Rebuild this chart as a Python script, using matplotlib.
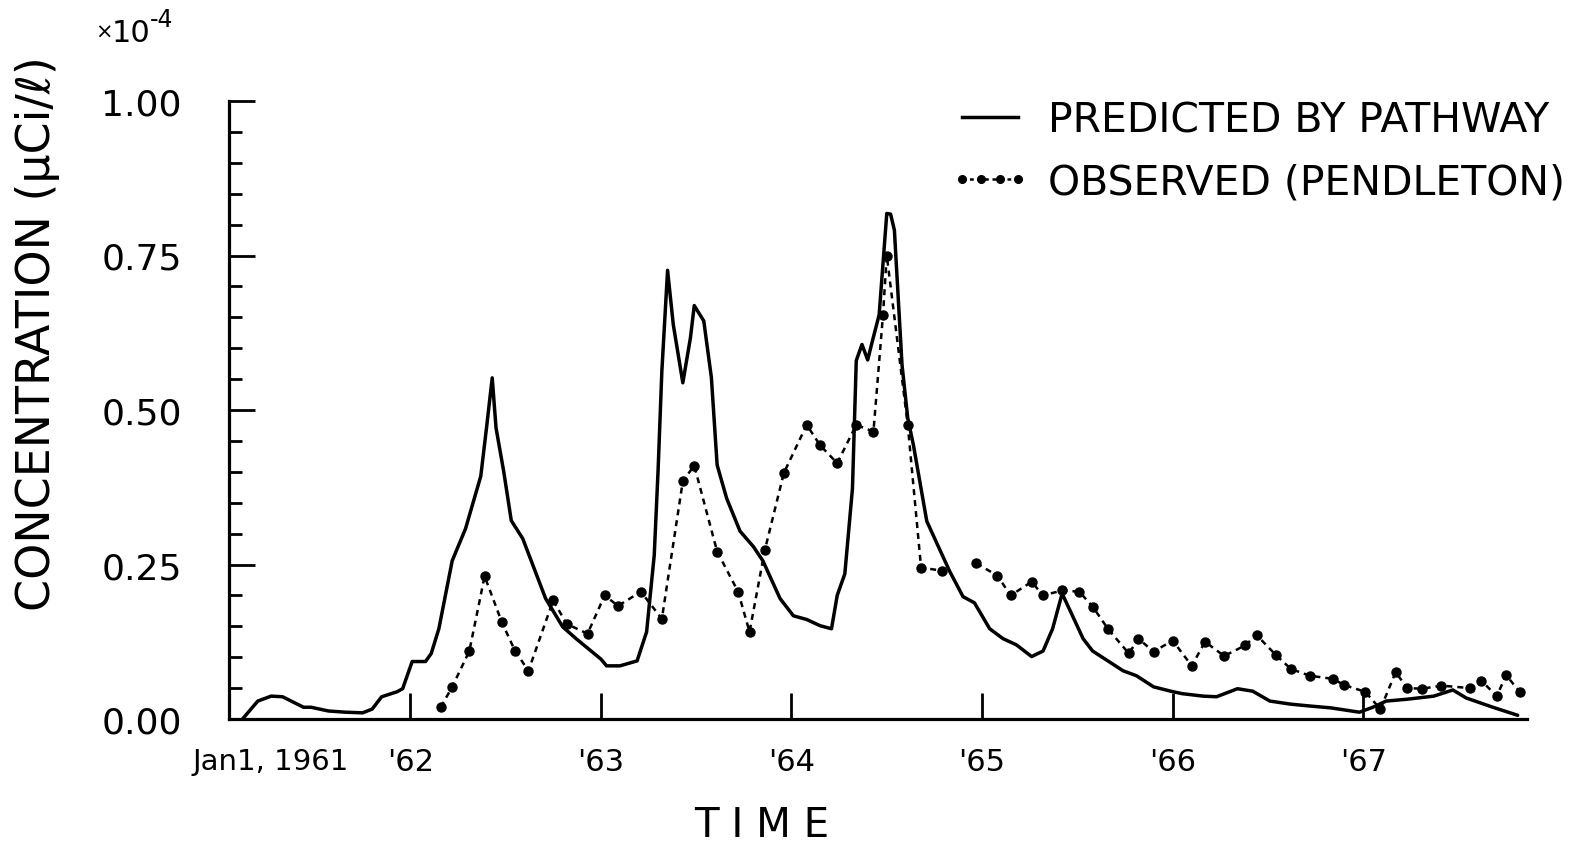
import matplotlib
matplotlib.use("Agg")
import matplotlib.pyplot as plt
from matplotlib.lines import Line2D
from matplotlib.ticker import MultipleLocator

# Predicted concentration (units of 1e-4 uCi/l) versus time in years
pred_year = [1961.12, 1961.20, 1961.27, 1961.33, 1961.44, 1961.48, 1961.57, 1961.66,
             1961.75, 1961.80, 1961.85, 1961.93, 1961.96, 1962.01, 1962.08, 1962.11,
             1962.15, 1962.22, 1962.29, 1962.37, 1962.40, 1962.43, 1962.45, 1962.49,
             1962.53, 1962.59, 1962.71, 1962.80, 1962.87, 1963.00, 1963.03, 1963.10,
             1963.19, 1963.24, 1963.28, 1963.30, 1963.32, 1963.35, 1963.38, 1963.43,
             1963.47, 1963.49, 1963.54, 1963.58, 1963.61, 1963.66, 1963.73, 1963.80,
             1963.85, 1963.94, 1964.01, 1964.08, 1964.15, 1964.21, 1964.24, 1964.28,
             1964.32, 1964.34, 1964.37, 1964.40, 1964.42, 1964.46, 1964.50, 1964.52,
             1964.54, 1964.56, 1964.58, 1964.61, 1964.64, 1964.71, 1964.83, 1964.90,
             1964.96, 1965.04, 1965.11, 1965.18, 1965.26, 1965.32, 1965.37, 1965.42,
             1965.47, 1965.53, 1965.58, 1965.66, 1965.74, 1965.81, 1965.90, 1965.99,
             1966.05, 1966.16, 1966.23, 1966.34, 1966.42, 1966.51, 1966.62, 1966.72,
             1966.83, 1966.98, 1967.05, 1967.12, 1967.23, 1967.37, 1967.47, 1967.54,
             1967.68, 1967.81]
pred_conc = [0.000, 0.029, 0.037, 0.036, 0.019, 0.019, 0.013, 0.011,
             0.010, 0.016, 0.036, 0.044, 0.049, 0.093, 0.093, 0.106,
             0.146, 0.256, 0.308, 0.393, 0.471, 0.552, 0.471, 0.401,
             0.321, 0.292, 0.195, 0.149, 0.130, 0.097, 0.086, 0.086,
             0.094, 0.141, 0.265, 0.401, 0.563, 0.726, 0.638, 0.544,
             0.617, 0.669, 0.644, 0.552, 0.411, 0.357, 0.304, 0.279,
             0.256, 0.195, 0.167, 0.161, 0.151, 0.146, 0.200, 0.235,
             0.373, 0.580, 0.606, 0.581, 0.606, 0.654, 0.818, 0.817,
             0.791, 0.682, 0.573, 0.487, 0.443, 0.320, 0.239, 0.198,
             0.188, 0.146, 0.130, 0.120, 0.101, 0.110, 0.146, 0.203,
             0.170, 0.130, 0.110, 0.094, 0.078, 0.070, 0.052, 0.045,
             0.041, 0.037, 0.036, 0.049, 0.045, 0.029, 0.024, 0.021,
             0.018, 0.011, 0.019, 0.029, 0.032, 0.037, 0.047, 0.034,
             0.019, 0.006]

# Observed concentration at Pendleton
obs_year = [1962.16, 1962.22, 1962.31, 1962.39, 1962.48, 1962.55, 1962.62, 1962.75,
            1962.82, 1962.93, 1963.02, 1963.09, 1963.21, 1963.32, 1963.43, 1963.49,
            1963.61, 1963.72, 1963.78, 1963.86, 1963.96, 1964.08, 1964.15, 1964.24,
            1964.34, 1964.43, 1964.48, 1964.50, 1964.61, 1964.68, 1964.79,
            1964.97, 1965.08, 1965.15, 1965.26, 1965.32, 1965.42, 1965.51, 1965.58,
            1965.66, 1965.77, 1965.82, 1965.90, 1966.00, 1966.10, 1966.17, 1966.27,
            1966.38, 1966.44, 1966.54, 1966.62, 1966.72, 1966.84, 1966.90, 1967.01,
            1967.09, 1967.17, 1967.23, 1967.31, 1967.41, 1967.56, 1967.62, 1967.70,
            1967.75, 1967.82]
obs_conc = [0.019, 0.052, 0.110, 0.231, 0.157, 0.110, 0.078, 0.192,
            0.154, 0.138, 0.200, 0.183, 0.206, 0.162, 0.385, 0.410,
            0.271, 0.206, 0.141, 0.273, 0.398, 0.476, 0.443, 0.414,
            0.476, 0.465, 0.653, 0.750, 0.476, 0.245, 0.240,
            0.252, 0.232, 0.200, 0.222, 0.200, 0.208, 0.206, 0.182,
            0.146, 0.106, 0.130, 0.109, 0.127, 0.086, 0.125, 0.102,
            0.119, 0.136, 0.104, 0.081, 0.070, 0.065, 0.055, 0.044,
            0.016, 0.076, 0.050, 0.049, 0.054, 0.050, 0.062, 0.037,
            0.071, 0.044]
# the observed record has an interruption at the end of 1964
obs_gap_after = 1964.79

year_ticks = [1962, 1963, 1964, 1965, 1966, 1967]
year_labels = ["'62", "'63", "'64", "'65", "'66", "'67"]
start_label = "Jan1, 1961"
start_label_pos = 1961.27
conc_ticks = [0.0, 0.25, 0.50, 0.75, 1.00]
conc_labels = ["0.00", "0.25", "0.50", "0.75", "1.00"]

plt.rcParams["font.family"] = ["DejaVu Sans"]

W, H = 1575, 845
fig = plt.figure(figsize=(W / 100, H / 100), dpi=100)
ax = fig.add_axes([229 / W, 1 - 720 / H, 1298 / W, 618 / H])

ax.set_xlim(1961.049, 1967.859)
ax.set_ylim(0, 1.0)

# predicted curve
ax.plot(pred_year, pred_conc, color="black", lw=2.5, solid_joinstyle="round",
        solid_capstyle="round", zorder=3)

# observed points joined by a broken line, with a gap in the record
split = obs_year.index(obs_gap_after) + 1
obs_style = dict(color="black", lw=1.8, linestyle=(0, (2.4, 2.0)), zorder=4)
ax.plot(obs_year[:split], obs_conc[:split], **obs_style)
ax.plot(obs_year[split:], obs_conc[split:], **obs_style)
ax.plot(obs_year, obs_conc, linestyle="none", marker="o", ms=6.5,
        color="black", zorder=5)

# axes styling
for side in ("top", "right"):
    ax.spines[side].set_visible(False)
for side in ("left", "bottom"):
    ax.spines[side].set_linewidth(2.3)
    ax.spines[side].set_capstyle("projecting")

ax.set_yticks(conc_ticks)
ax.set_yticklabels(conc_labels)
ax.yaxis.set_minor_locator(MultipleLocator(0.05))
ax.tick_params(axis="y", which="major", direction="in", length=19, width=2.0,
               pad=34, labelsize=26)
ax.tick_params(axis="y", which="minor", direction="in", length=9, width=2.0)

ax.set_xticks(year_ticks)
ax.set_xticklabels(year_labels)
ax.tick_params(axis="x", which="major", direction="in", length=19, width=2.0,
               pad=20, labelsize=22)
ax.tick_params(axis="x", which="minor", bottom=False)

ax.text(start_label_pos, -0.068, start_label, transform=ax.get_xaxis_transform(),
        ha="center", va="center", fontsize=21)

# axis titles
fig.text(762 / W, 1 - 826 / H, "T I M E", ha="center", va="center", fontsize=29)
fig.text(38 / W, 1 - 334 / H, "CONCENTRATION (\u03bcCi/\u2113)", rotation=90,
         ha="center", va="center", fontsize=33)

# scale factor
fig.text(104 / W, 1 - 33 / H, "\u00d7", ha="center", va="center", fontsize=15)
fig.text(112 / W, 1 - 33 / H, "10", ha="left", va="center", fontsize=22)
fig.text(150 / W, 1 - 20 / H, "-4", ha="left", va="center", fontsize=17)

# legend
handles = [
    Line2D([], [], color="black", lw=2.5),
    Line2D([], [], color="black", lw=1.8, linestyle=(0, (1.5, 1.5)),
           marker="o", ms=5.5),
]
labels = ["PREDICTED BY PATHWAY", "OBSERVED (PENDLETON)"]
fig.legend(handles, labels, loc="upper left",
           bbox_to_anchor=(950 / W, 1 - 101 / H), frameon=False, fontsize=29.5,
           handlelength=1.97, handletextpad=0.42, labelspacing=0.55,
           borderpad=0, borderaxespad=0, numpoints=4)

fig.savefig("out.png", dpi=100, facecolor="white")
